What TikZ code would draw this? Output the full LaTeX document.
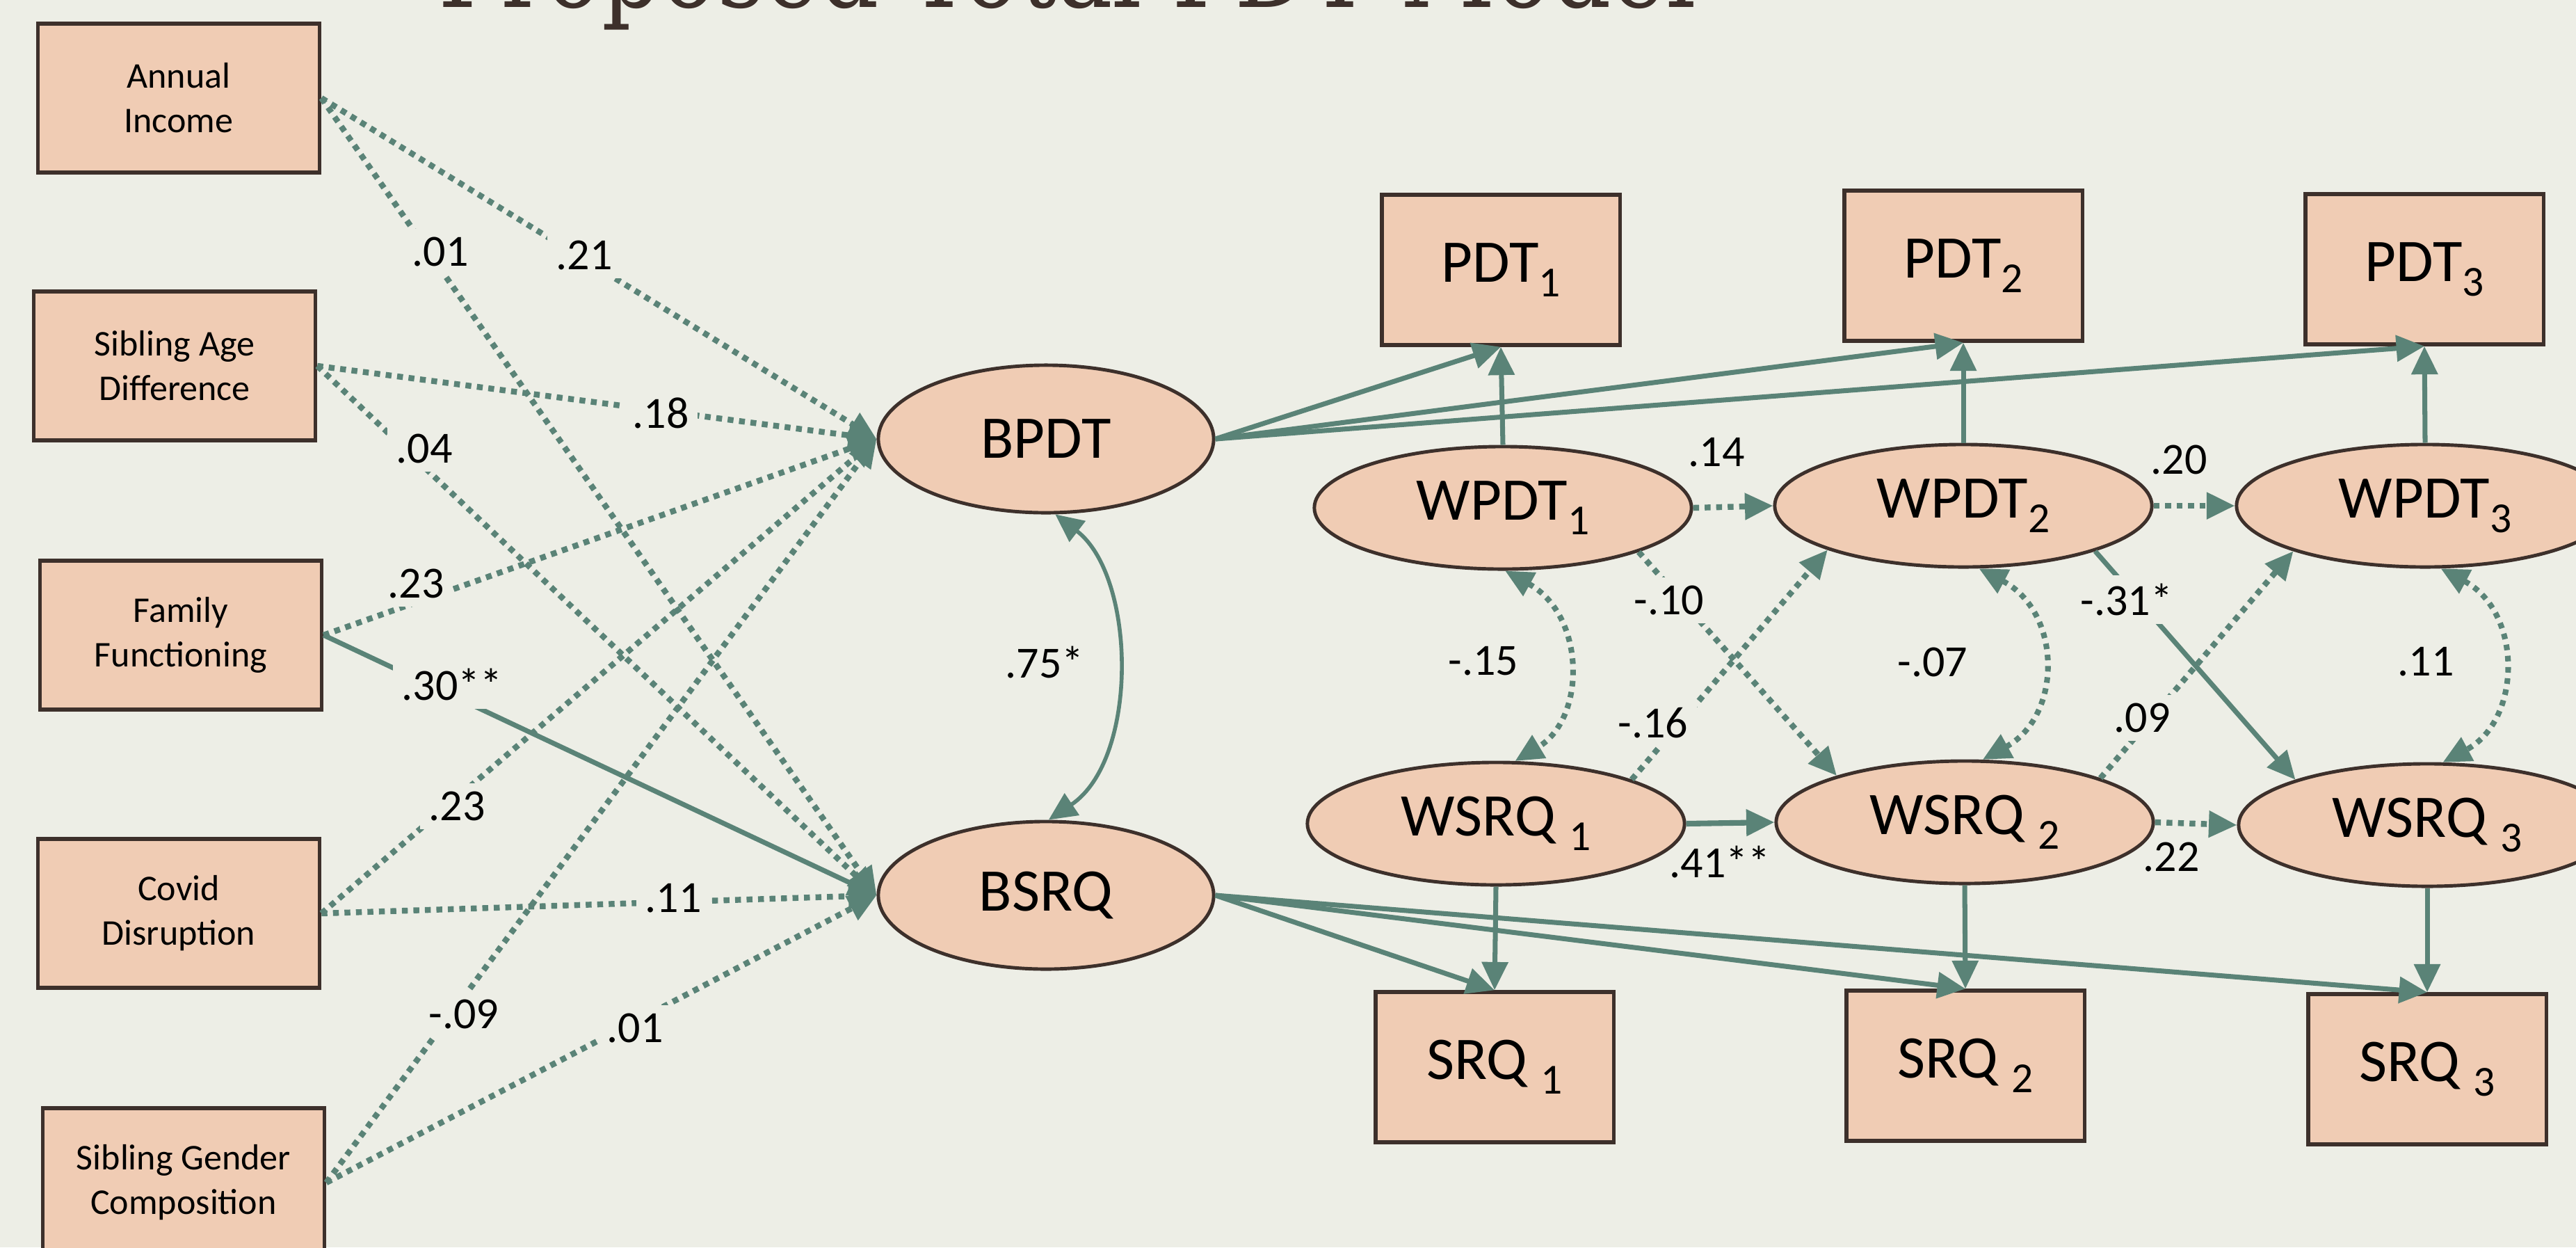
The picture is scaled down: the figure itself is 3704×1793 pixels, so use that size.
\documentclass[tikz,border=0pt]{standalone}
\usepackage{fontspec}
\usepackage{graphicx}
\setmainfont{Carlito}
\newfontfamily\titlefont{DejaVu Serif}
\usetikzlibrary{arrows.meta,shapes.geometric}
\definecolor{bgc}{HTML}{EDEEE6}
\definecolor{boxc}{HTML}{F0CCB4}
\definecolor{edgec}{HTML}{3D302B}
\definecolor{pathc}{HTML}{5A8377}
\newcommand\lowsub[1]{\raisebox{-6pt}{\fontsize{17.5pt}{18pt}\selectfont #1}}
\tikzset{
  obsbox/.style={draw=edgec, fill=boxc, line width=1.5pt, rectangle, inner sep=0pt,
    font=\fontsize{24.75pt}{28pt}\selectfont, minimum width=3.42cm, minimum height=2.16cm},
  covbox/.style={obsbox, font=\fontsize{14.8pt}{18.2pt}\selectfont, align=center,
    minimum width=4.05cm, minimum height=2.14cm},
  latnode/.style={draw=edgec, fill=boxc, line width=1.4pt, ellipse, inner sep=0pt,
    font=\fontsize{24.75pt}{28pt}\selectfont},
  biglat/.style={latnode, minimum width=4.82cm, minimum height=2.12cm},
  witlat/.style={latnode, minimum width=5.42cm, minimum height=1.76cm},
  tipA/.tip={Triangle[length=11.5pt,width=10.5pt]},
  solidarr/.style={draw=pathc, line width=2.0pt, -tipA},
  vertarr/.style={draw=pathc, line width=2.0pt, -tipA},
  dotarr/.style={draw=pathc, line width=2.4pt, dash pattern=on 2.4pt off 2.3pt, -tipA},
  covsolid/.style={draw=pathc, line width=1.6pt, tipA-tipA},
  covdot/.style={draw=pathc, line width=2.3pt, dash pattern=on 2.3pt off 2.3pt, tipA-tipA},
  lblfree/.style={font=\fontsize{18.2pt}{20pt}\selectfont, inner sep=3.5pt},
  lbl/.style={lblfree, fill=bgc},
}
\begin{document}
\begin{tikzpicture}[x=0.01cm, y=-0.01cm]
\useasboundingbox (0,0) rectangle (3704,1793);
\fill[bgc] (0,0) rectangle (3704,1793);

% title (cut off at the top)
\node[anchor=base west, text=edgec, inner sep=0pt] (title) at (630,10)
  {\resizebox{18.07cm}{\height}{\titlefont\fontsize{44.6pt}{50pt}\selectfont Proposed Total PDT Model}};

% covariates
\node[covbox] (ai)  at (257,141)  {Annual\\Income};
\node[covbox] (sad) at (251,526)  {Sibling Age\\Difference};
\node[covbox] (ff)  at (260,913)  {Family\\Functioning};
\node[covbox] (cd)  at (257,1313) {Covid\\Disruption};
\node[covbox] (sgc) at (264,1700) {Sibling Gender\\Composition};

% between latents
\node[biglat] (bpdt) at (1504,631)  {BPDT};
\node[biglat] (bsrq) at (1504,1287) {BSRQ};

% within latents
\node[witlat] (wpdt1) at (2161,730)  {WPDT\lowsub{1}};
\node[witlat] (wpdt2) at (2823,727)  {WPDT\lowsub{2}};
\node[witlat] (wpdt3) at (3487,727)  {WPDT\lowsub{3}};
\node[witlat] (wsrq1) at (2151,1184) {WSRQ \lowsub{1}};
\node[witlat] (wsrq2) at (2825,1182) {WSRQ \lowsub{2}};
\node[witlat] (wsrq3) at (3490,1186) {WSRQ \lowsub{3}};

% observed
\node[obsbox] (pdt1) at (2158,388)  {PDT\lowsub{1}};
\node[obsbox] (pdt2) at (2823,382)  {PDT\lowsub{2}};
\node[obsbox] (pdt3) at (3486,387)  {PDT\lowsub{3}};
\node[obsbox] (srq1) at (2149,1534) {SRQ \lowsub{1}};
\node[obsbox] (srq2) at (2826,1532) {SRQ \lowsub{2}};
\node[obsbox] (srq3) at (3490,1537) {SRQ \lowsub{3}};

% covariate paths
\draw[dotarr] (ai.east) -- (bpdt.west);
\draw[dotarr] (ai.east) -- (bsrq.west);
\draw[dotarr] (sad.east) -- (bpdt.west);
\draw[dotarr] (sad.east) -- (bsrq.west);
\draw[dotarr] (ff.east) -- (bpdt.west);
\draw[solidarr] (ff.east) -- (bsrq.west);
\draw[dotarr] (cd.east) -- (bpdt.west);
\draw[dotarr] (cd.east) -- (bsrq.west);
\draw[dotarr] (sgc.east) -- (bpdt.west);
\draw[dotarr] (sgc.east) -- (bsrq.west);

% between to observed
\draw[solidarr] (bpdt.east) -- (pdt1.south);
\draw[solidarr] (bpdt.east) -- (pdt2.south);
\draw[solidarr] (bpdt.east) -- (pdt3.south);
\draw[solidarr] (bsrq.east) -- (srq1.north);
\draw[solidarr] (bsrq.east) -- (srq2.north);
\draw[solidarr] (bsrq.east) -- (srq3.north);

% within to observed
\draw[vertarr] (wpdt1.north) -- (pdt1.south);
\draw[vertarr] (wpdt2.north) -- (pdt2.south);
\draw[vertarr] (wpdt3.north) -- (pdt3.south);
\draw[vertarr] (wsrq1.south) -- (srq1.north);
\draw[vertarr] (wsrq2.south) -- (srq2.north);
\draw[vertarr] (wsrq3.south) -- (srq3.north);

% autoregressive
\draw[dotarr] (wpdt1.east) -- (wpdt2.west);
\draw[dotarr] (wpdt2.east) -- (wpdt3.west);
\draw[solidarr, line width=2.3pt] (wsrq1.east) -- (wsrq2.west);
\draw[dotarr] (wsrq2.east) -- (wsrq3.west);

% cross-lagged
\draw[dotarr] (wpdt1.-18) -- (wsrq2.160);
\draw[dotarr] (wsrq1.18) -- (wpdt2.198);
\draw[vertarr] (wpdt2.-19) -- (wsrq3.161);
\draw[dotarr] (wsrq2.18) -- (wpdt3.199);

% covariances
\draw[covsolid] (bpdt.-83) .. controls +(117,90) and +(130,-87) .. (bsrq.88);
\draw[covdot] (wpdt1.-88) .. controls +(116,64) and +(103,-62) .. (wsrq1.73);
\draw[covdot] (wpdt2.-76) .. controls +(120,63) and +(115,-63) .. (wsrq2.74);
\draw[covdot] (wpdt3.-76) .. controls +(118,63) and +(114,-61) .. (wsrq3.76);

% labels
\node[lbl] (lai1) at (633,362)  {.01};
\node[lbl] (lai2) at (840,367)  {.21};
\node[lbl] (lsa1) at (950,594)  {.18};
\node[lbl] (lsa2) at (610,645)  {.04};
\node[lbl] (lff1) at (598,839)  {.23};
\node[lbl] (lff2) at (650,984)  {.30**};
\node[lbl] (lcd1) at (657,1159) {.23};
\node[lbl] (lcd2) at (968,1291) {.11};
\node[lbl] (lsg1) at (667,1458) {-.09};
\node[lbl] (lsg2) at (913,1478) {.01};
\node[lblfree] (lcb)  at (1502,952) {.75*};
\node[lblfree] (lc1)  at (2133,950) {-.15};
\node[lblfree] (lc2)  at (2779,952) {-.07};
\node[lblfree] (lc3)  at (3488,951) {.11};
\node[lblfree] (lp12) at (2468,650) {.14};
\node[lblfree] (lp23) at (3133,661) {.20};
\node[lblfree] (ls12) at (2473,1239) {.41**};
\node[lblfree] (ls23) at (3122,1232) {.22};
\node[lbl] (lx1)  at (2400,863) {-.10};
\node[lbl] (lx2)  at (2377,1039) {-.16};
\node[lbl] (lx3)  at (3058,862) {-.31*};
\node[lbl] (lx4)  at (3080,1032) {.09};
\end{tikzpicture}
\end{document}
